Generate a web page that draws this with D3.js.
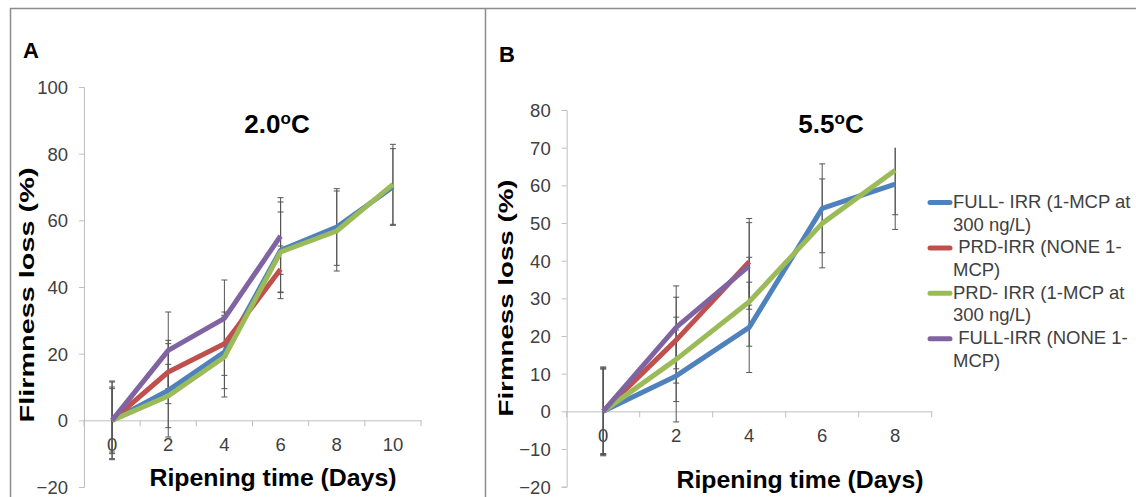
<!DOCTYPE html>
<html>
<head>
<meta charset="utf-8">
<script src="https://cdn.jsdelivr.net/npm/d3@7"></script>
<style>
  body { margin: 0; background: #fff; }
  svg { display: block; font-family: "Liberation Sans", Arial, sans-serif; }
</style>
</head>
<body>
<svg id="chart" width="1136" height="497"></svg>
<script>
'use strict';

// ripening days on each panel
var daysA = [0, 2, 4, 6, 8, 10];
var daysB = [0, 2, 4, 6, 8];

var seriesNames = [
    ['FULL- IRR (1-MCP at', '300 ng/L)'],
    [' PRD-IRR (NONE 1-', 'MCP)'],
    ['PRD- IRR (1-MCP at', '300 ng/L)'],
    [' FULL-IRR (NONE 1-', 'MCP)']
];
var seriesColors = ['#4F81BD', '#C0504D', '#9BBB59', '#8064A2'];

// panel A, 2.0 C
var fullIrrMcpA = [0, 9, 20.5, 51, 58, 70];
var prdIrrNoneA = [0, 14.5, 23, 45.3];
var prdIrrMcpA = [0, 7.3, 19, 50.5, 56.8, 70.8];
var fullIrrNoneA = [0, 21, 30.6, 55.3];

var fullIrrMcpErrA = [11.8, 14, 11, 14.5, 11.5, 11.5];
var prdIrrNoneErrA = [10, 9.5, 9.5, 7];
var prdIrrMcpErrA = [11.5, 9.5, 12, 12, 12, 12];
var fullIrrNoneErrA = [9.5, 11.5, 11.5, 11.5];

// panel B, 5.5 C
var fullIrrMcpB = [0, 9.4, 22.3, 53.9, 60.3];
var prdIrrNoneB = [0, 18.9, 39.7];
var prdIrrMcpB = [0, 13.8, 29.1, 49.9, 64];
var fullIrrNoneB = [0, 22.3, 38.6];

var fullIrrMcpErrB = [11.8, 12.2, 12, 11.8, 12];
var prdIrrNoneErrB = [11.5, 11.4, 11.5];
var prdIrrMcpErrB = [11.5, 11.2, 11.8, 11.8, 11.8];
var fullIrrNoneErrB = [11.2, 11, 11.5];

var ticksA = [-20, 0, 20, 40, 60, 80, 100];
var ticksB = [-20, -10, 0, 10, 20, 30, 40, 50, 60, 70, 80];

var svg = d3.select('#chart');
var defs = svg.append('defs');
var axisColor = '#BFBFBF';
var textColor = '#404040';

// frames around the two panels
svg.append('path')
    .attr('d', 'M10.5,497V8.5H1136M485.5,8.5V497')
    .attr('fill', 'none')
    .attr('stroke', '#8c8c8c')
    .attr('stroke-width', 1.5);

function drawPanel(opts) {
    var g = svg.append('g');

    var x = d3.scaleBand().domain(opts.days).range(opts.xRange).padding(0);
    var y = d3.scaleLinear().domain(opts.yDomain).range(opts.yRange);
    var cx = function(d) { return x(d) + x.bandwidth() / 2; };

    // y axis
    var yAxis = g.append('g')
        .attr('transform', 'translate(' + opts.xRange[0] + ',0)')
        .call(d3.axisLeft(y).tickValues(opts.yTicks).tickSize(5).tickPadding(11));
    yAxis.select('.domain').attr('stroke', axisColor);
    yAxis.selectAll('.tick line').attr('stroke', axisColor);
    yAxis.selectAll('text')
        .attr('fill', textColor)
        .style('font-size', '18.5px')
        .attr('dy', '0.35em');

    // x axis on the zero line
    var xAxis = g.append('g')
        .attr('transform', 'translate(0,' + y(0) + ')')
        .call(d3.axisBottom(x).tickSize(0).tickSizeOuter(0));
    xAxis.select('.domain').attr('stroke', axisColor);
    xAxis.selectAll('text')
        .attr('fill', textColor)
        .style('font-size', '18.5px')
        .attr('dy', null)
        .attr('y', 31);
    var bounds = opts.days.map(function(d) { return x(d); }).concat([x.range()[1]]);
    xAxis.selectAll('.bound')
        .data(bounds)
        .enter().append('line')
        .attr('class', 'bound')
        .attr('x1', function(d) { return d; })
        .attr('x2', function(d) { return d; })
        .attr('y1', 0)
        .attr('y2', 6)
        .attr('stroke', axisColor);

    var series = opts.values.map(function(vals, i) {
        return vals.map(function(v, j) {
            return { day: opts.days[j], value: v, err: opts.errors[i][j], color: seriesColors[i] };
        });
    });

    // error bars, cut at the plot area top like the original
    var clipId = 'clip-' + opts.letter;
    defs.append('clipPath').attr('id', clipId)
        .append('rect')
        .attr('x', 0).attr('width', 1136)
        .attr('y', y(opts.errTop))
        .attr('height', 497);
    var eb = g.append('g')
        .attr('clip-path', 'url(#' + clipId + ')')
        .attr('stroke', '#555')
        .attr('stroke-width', 1);
    series.forEach(function(s) {
        var bars = eb.selectAll(null).data(s).enter().append('g');
        bars.append('line')
            .attr('x1', function(d) { return cx(d.day); })
            .attr('x2', function(d) { return cx(d.day); })
            .attr('y1', function(d) { return y(d.value - d.err); })
            .attr('y2', function(d) { return y(d.value + d.err); });
        [-1, 1].forEach(function(sign) {
            bars.append('line')
                .attr('x1', function(d) { return cx(d.day) - 3; })
                .attr('x2', function(d) { return cx(d.day) + 3; })
                .attr('y1', function(d) { return y(d.value + sign * d.err); })
                .attr('y2', function(d) { return y(d.value + sign * d.err); });
        });
    });

    // series lines
    var line = d3.line()
        .x(function(d) { return cx(d.day); })
        .y(function(d) { return y(d.value); });
    g.append('g').selectAll('path')
        .data(series)
        .enter().append('path')
        .attr('d', line)
        .attr('fill', 'none')
        .attr('stroke', function(d) { return d[0].color; })
        .attr('stroke-width', 5)
        .attr('stroke-linejoin', 'round');

    // panel letter
    g.append('text')
        .attr('x', opts.letterPos[0])
        .attr('y', opts.letterPos[1])
        .style('font-size', '22px')
        .style('font-weight', 'bold')
        .text(opts.letter);

    // temperature title
    var t = g.append('text')
        .attr('x', opts.titlePos[0])
        .attr('y', opts.titlePos[1])
        .attr('text-anchor', 'middle')
        .style('font-size', '26px')
        .style('font-weight', 'bold');
    t.append('tspan').text(opts.temp);
    t.append('tspan').attr('dy', -9).style('font-size', '17px').text('o');
    t.append('tspan').attr('dy', 9).text('C');

    // axis titles
    g.append('text')
        .attr('x', opts.xTitlePos[0])
        .attr('y', opts.xTitlePos[1])
        .attr('text-anchor', 'middle')
        .attr('textLength', 247)
        .attr('lengthAdjust', 'spacingAndGlyphs')
        .style('font-size', '24px')
        .style('font-weight', 'bold')
        .text('Ripening time (Days)');

    g.append('text')
        .attr('transform', 'translate(' + opts.yTitlePos[0] + ',' + opts.yTitlePos[1] + ') rotate(-90)')
        .attr('text-anchor', 'middle')
        .attr('textLength', opts.yTitleLen)
        .attr('lengthAdjust', 'spacingAndGlyphs')
        .style('font-size', '21px')
        .style('font-weight', 'bold')
        .text(opts.yTitle);
}

drawPanel({
    days: daysA,
    values: [fullIrrMcpA, prdIrrNoneA, prdIrrMcpA, fullIrrNoneA],
    errors: [fullIrrMcpErrA, prdIrrNoneErrA, prdIrrMcpErrA, fullIrrNoneErrA],
    xRange: [84, 421],
    yDomain: [-20, 100],
    yRange: [487, 87],
    yTicks: ticksA,
    errTop: 100,
    letter: 'A',
    letterPos: [23, 58],
    temp: '2.0',
    titlePos: [277, 133],
    xTitlePos: [273, 486],
    yTitle: 'Flirmness loss (%)',
    yTitlePos: [34, 295],
    yTitleLen: 255
});

drawPanel({
    days: daysB,
    values: [fullIrrMcpB, prdIrrNoneB, prdIrrMcpB, fullIrrNoneB],
    errors: [fullIrrMcpErrB, prdIrrNoneErrB, prdIrrMcpErrB, fullIrrNoneErrB],
    xRange: [566.7, 931.7],
    yDomain: [-20, 80],
    yRange: [486.7, 110],
    yTicks: ticksB,
    errTop: 70,
    letter: 'B',
    letterPos: [499, 62],
    temp: '5.5',
    titlePos: [831, 133],
    xTitlePos: [800, 488],
    yTitle: 'Firmness loss (%)',
    yTitlePos: [513, 298],
    yTitleLen: 237
});

// legend
var legend = svg.append('g').attr('transform', 'translate(928,0)');
var lineH = 22.7;
var items = legend.selectAll('g')
    .data(seriesNames)
    .enter().append('g')
    .attr('transform', function(d, i) { return 'translate(0,' + (208 + i * 2 * lineH) + ')'; });
items.append('line')
    .attr('x1', 2).attr('x2', 22)
    .attr('y1', -5.5).attr('y2', -5.5)
    .attr('stroke', function(d, i) { return seriesColors[i]; })
    .attr('stroke-width', 5)
    .attr('stroke-linecap', 'round');
items.append('text')
    .attr('fill', textColor)
    .style('font-size', '18.5px')
    .style('white-space', 'pre')
    .attr('xml:space', 'preserve')
    .each(function(d) {
        var txt = d3.select(this);
        txt.append('tspan').attr('x', 25).attr('y', 0).text(d[0]);
        txt.append('tspan').attr('x', 25).attr('y', lineH).text(d[1]);
    });
</script>
</body>
</html>
